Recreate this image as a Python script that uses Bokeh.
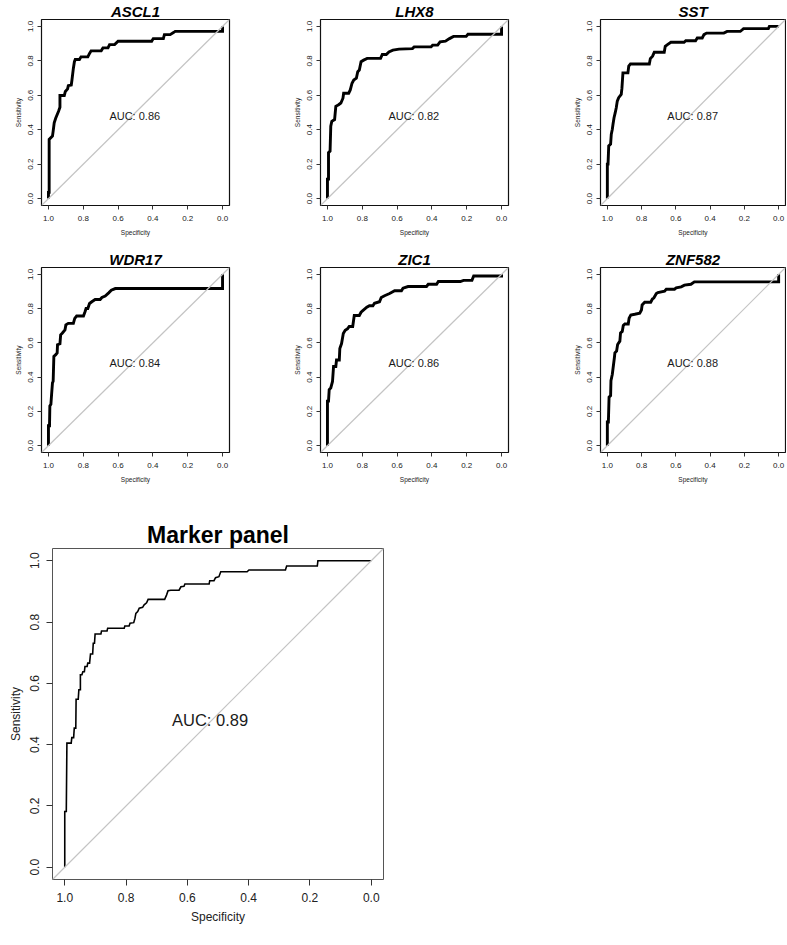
from bokeh.plotting import figure
from bokeh.layouts import column, row
from bokeh.models import Range1d, FixedTicker, NumeralTickFormatter, Label, Slope
from bokeh.embed import file_html
from bokeh.resources import INLINE

FONT = "Liberation Sans"

# ---------------- data (specificity, sensitivity) ----------------
gene_names = ["ASCL1", "LHX8", "SST", "WDR17", "ZIC1", "ZNF582"]
gene_auc = ["0.86", "0.82", "0.87", "0.84", "0.86", "0.88"]
panel_title = "Marker panel"
panel_auc = "0.89"
tick_values = [0.0, 0.2, 0.4, 0.6, 0.8, 1.0]

ascl1_roc = [(1.000, 0.000), (1.000, 0.036), (0.996, 0.036), (0.996, 0.344), (0.977, 0.363), (0.973, 0.392),
             (0.967, 0.440), (0.958, 0.468), (0.942, 0.507), (0.934, 0.530), (0.934, 0.599), (0.909, 0.599),
             (0.903, 0.622), (0.890, 0.637), (0.886, 0.656), (0.869, 0.660), (0.865, 0.689), (0.857, 0.756),
             (0.851, 0.795), (0.846, 0.808), (0.822, 0.808), (0.813, 0.823), (0.774, 0.823), (0.764, 0.843),
             (0.755, 0.858), (0.697, 0.858), (0.687, 0.875), (0.658, 0.875), (0.649, 0.894), (0.620, 0.894),
             (0.600, 0.914), (0.407, 0.914), (0.398, 0.929), (0.340, 0.929), (0.334, 0.952), (0.301, 0.952),
             (0.282, 0.964), (0.272, 0.971), (0.000, 0.971), (0.000, 1.000)]

lhx8_roc = [(1.000, 0.000), (1.000, 0.113), (0.994, 0.113), (0.994, 0.267), (0.985, 0.276), (0.981, 0.420),
            (0.975, 0.449), (0.959, 0.459), (0.952, 0.536), (0.936, 0.545), (0.923, 0.555), (0.911, 0.583),
            (0.907, 0.612), (0.878, 0.612), (0.869, 0.631), (0.859, 0.670), (0.849, 0.689), (0.834, 0.699),
            (0.826, 0.737), (0.817, 0.747), (0.807, 0.795), (0.792, 0.804), (0.772, 0.814), (0.695, 0.814),
            (0.685, 0.837), (0.662, 0.837), (0.647, 0.852), (0.624, 0.862), (0.589, 0.868), (0.512, 0.871),
            (0.502, 0.881), (0.405, 0.881), (0.396, 0.891), (0.367, 0.891), (0.353, 0.910), (0.322, 0.914),
            (0.299, 0.929), (0.276, 0.942), (0.203, 0.942), (0.193, 0.954), (0.000, 0.954), (0.000, 1.000)]

sst_roc = [(1.000, 0.000), (1.000, 0.200), (0.996, 0.200), (0.992, 0.306), (0.981, 0.316), (0.977, 0.374),
           (0.971, 0.403), (0.967, 0.432), (0.961, 0.470), (0.954, 0.499), (0.948, 0.528), (0.942, 0.566),
           (0.934, 0.586), (0.919, 0.605), (0.915, 0.640), (0.909, 0.730), (0.880, 0.730), (0.875, 0.769),
           (0.865, 0.782), (0.755, 0.782), (0.749, 0.813), (0.736, 0.827), (0.726, 0.850), (0.668, 0.850),
           (0.662, 0.884), (0.649, 0.894), (0.629, 0.908), (0.552, 0.908), (0.542, 0.917), (0.485, 0.917),
           (0.475, 0.933), (0.446, 0.933), (0.436, 0.952), (0.421, 0.961), (0.320, 0.961), (0.301, 0.971),
           (0.224, 0.971), (0.214, 0.979), (0.205, 0.987), (0.060, 0.987), (0.054, 1.000), (0.000, 1.000)]

wdr17_roc = [(1.000, 0.000), (1.000, 0.116), (0.994, 0.116), (0.992, 0.232), (0.986, 0.241), (0.982, 0.299),
             (0.977, 0.367), (0.973, 0.376), (0.969, 0.521), (0.958, 0.531), (0.950, 0.541), (0.948, 0.589),
             (0.934, 0.595), (0.930, 0.647), (0.921, 0.656), (0.905, 0.676), (0.900, 0.705), (0.886, 0.714),
             (0.857, 0.714), (0.849, 0.743), (0.838, 0.757), (0.799, 0.757), (0.790, 0.782), (0.784, 0.801),
             (0.774, 0.801), (0.764, 0.830), (0.751, 0.840), (0.732, 0.853), (0.703, 0.853), (0.693, 0.865),
             (0.674, 0.873), (0.654, 0.892), (0.639, 0.907), (0.616, 0.917), (0.000, 0.917), (0.000, 1.000)]

zic1_roc = [(1.000, 0.000), (1.000, 0.260), (0.994, 0.260), (0.990, 0.327), (0.981, 0.337), (0.971, 0.375),
            (0.965, 0.462), (0.952, 0.462), (0.948, 0.500), (0.932, 0.500), (0.929, 0.567), (0.919, 0.596),
            (0.909, 0.654), (0.898, 0.673), (0.884, 0.683), (0.875, 0.696), (0.855, 0.696), (0.846, 0.760),
            (0.817, 0.760), (0.807, 0.779), (0.797, 0.788), (0.774, 0.808), (0.759, 0.817), (0.739, 0.817),
            (0.730, 0.831), (0.701, 0.840), (0.691, 0.865), (0.672, 0.875), (0.643, 0.888), (0.614, 0.904),
            (0.575, 0.904), (0.566, 0.919), (0.537, 0.929), (0.431, 0.929), (0.421, 0.942), (0.373, 0.942),
            (0.363, 0.958), (0.237, 0.958), (0.218, 0.965), (0.170, 0.965), (0.160, 0.990), (0.000, 0.990),
            (0.000, 1.000)]

znf582_roc = [(1.000, 0.000), (1.000, 0.138), (0.994, 0.138), (0.990, 0.283), (0.981, 0.292), (0.979, 0.379),
              (0.971, 0.417), (0.965, 0.465), (0.959, 0.513), (0.956, 0.542), (0.946, 0.552), (0.940, 0.590),
              (0.927, 0.610), (0.923, 0.658), (0.913, 0.667), (0.907, 0.702), (0.898, 0.710), (0.878, 0.710),
              (0.873, 0.744), (0.863, 0.763), (0.840, 0.767), (0.811, 0.773), (0.801, 0.792), (0.797, 0.821),
              (0.782, 0.837), (0.747, 0.837), (0.737, 0.856), (0.728, 0.863), (0.714, 0.888), (0.705, 0.894),
              (0.666, 0.902), (0.656, 0.913), (0.608, 0.913), (0.598, 0.921), (0.569, 0.927), (0.550, 0.937),
              (0.512, 0.942), (0.492, 0.956), (0.000, 0.956), (0.000, 1.000)]

marker_roc = [(1.000, 0.000), (1.000, 0.182), (0.995, 0.182), (0.993, 0.405), (0.979, 0.405), (0.977, 0.423),
              (0.971, 0.423), (0.969, 0.454), (0.964, 0.454), (0.963, 0.548), (0.956, 0.548), (0.954, 0.579),
              (0.949, 0.579), (0.949, 0.628), (0.944, 0.628), (0.941, 0.638), (0.936, 0.638), (0.934, 0.655),
              (0.927, 0.655), (0.925, 0.666), (0.919, 0.666), (0.916, 0.696), (0.909, 0.696), (0.907, 0.731),
              (0.903, 0.731), (0.901, 0.761), (0.882, 0.761), (0.880, 0.771), (0.862, 0.771), (0.860, 0.780),
              (0.806, 0.780), (0.804, 0.787), (0.790, 0.787), (0.787, 0.796), (0.775, 0.798), (0.771, 0.812),
              (0.768, 0.828), (0.762, 0.834), (0.757, 0.845), (0.746, 0.848), (0.741, 0.856), (0.733, 0.863),
              (0.728, 0.874), (0.674, 0.874), (0.668, 0.888), (0.663, 0.902), (0.654, 0.904), (0.627, 0.904),
              (0.621, 0.915), (0.611, 0.917), (0.608, 0.924), (0.529, 0.924), (0.527, 0.935), (0.513, 0.935),
              (0.508, 0.945), (0.497, 0.948), (0.491, 0.964), (0.405, 0.964), (0.399, 0.970), (0.280, 0.970),
              (0.276, 0.983), (0.176, 0.983), (0.174, 1.000), (0.000, 1.000)]

gene_rocs = [ascl1_roc, lhx8_roc, sst_roc, wdr17_roc, zic1_roc, znf582_roc]


def make_panel(name, pts, auc, width, height, left, right, top, bottom, big=False):
    if big:
        st = dict(title_size="23px", title_style="bold", tick_size="12px", lab_size="12px",
                  auc_size="16.5px", roc_w=1.6, tick_out=6, x_standoff=7, y_standoff=7,
                  x_lab_standoff=5, y_lab_standoff=5,
                  outline="#555555", outline_w=1.0, title_standoff=2)
    else:
        st = dict(title_size="15px", title_style="bold italic", tick_size="8px", lab_size="6.5px",
                  auc_size="11px", roc_w=2.9, tick_out=4, x_standoff=6, y_standoff=4,
                  x_lab_standoff=5, y_lab_standoff=4,
                  outline="#111111", outline_w=1.2, title_standoff=0)

    p = figure(width=width, height=height, x_range=Range1d(1.04, -0.04), y_range=Range1d(-0.04, 1.04),
               output_backend="svg", toolbar_location=None, title=name,
               min_border_left=left, min_border_right=right, min_border_top=top, min_border_bottom=bottom)
    p.title.align = "center"
    p.title.text_font = FONT
    p.title.text_font_size = st["title_size"]
    p.title.text_font_style = st["title_style"]
    p.title.text_color = "black"
    p.title.standoff = st["title_standoff"]

    p.background_fill_color = "white"
    p.border_fill_color = "white"
    p.outline_line_color = st["outline"]
    p.outline_line_width = st["outline_w"]
    p.outline_line_alpha = 1.0
    p.xgrid.visible = False
    p.ygrid.visible = False

    p.xaxis.axis_label = "Specificity"
    p.yaxis.axis_label = "Sensitivity"
    for ax in (p.xaxis[0], p.yaxis[0]):
        ax.ticker = FixedTicker(ticks=tick_values)
        ax.formatter = NumeralTickFormatter(format="0.0")
        ax.axis_line_color = None
        ax.major_tick_in = 0
        ax.major_tick_out = st["tick_out"]
        ax.major_tick_line_color = "#333333"
        ax.minor_tick_line_color = None
        ax.major_label_text_font = FONT
        ax.major_label_text_font_size = st["tick_size"]
        ax.major_label_text_color = "#222222"
        ax.axis_label_text_font = FONT
        ax.axis_label_text_font_size = st["lab_size"]
        ax.axis_label_text_font_style = "normal"
        ax.axis_label_text_color = "#222222"
    p.xaxis.major_label_standoff = st["x_standoff"]
    p.yaxis.major_label_standoff = st["y_standoff"]
    p.xaxis.axis_label_standoff = st["x_lab_standoff"]
    p.yaxis.axis_label_standoff = st["y_lab_standoff"]
    p.yaxis.major_label_orientation = "vertical"

    p.add_layout(Slope(gradient=-1, y_intercept=1, line_color="#c4c4c4", line_width=1.2))

    spec = [a for a, b in pts]
    sens = [b for a, b in pts]
    p.line(spec, sens, line_color="black", line_width=st["roc_w"], line_join="miter")

    p.add_layout(Label(x=0.65, y=0.48, text="AUC: " + auc, text_align="left", text_baseline="middle",
                       text_font=FONT, text_font_size=st["auc_size"], text_color="#1a1a1a"))
    return p


# columns: (figure width, left border, right border)
col_geom = [(287, 41, 58), (280, 33, 59), (219, 33, 1)]
# rows: (figure height, top border, bottom border)
row_geom = [(248, 17, 43), (244, 16, 40)]
figs = []
for i, (nm, roc, auc) in enumerate(zip(gene_names, gene_rocs, gene_auc)):
    w, l, r = col_geom[i % 3]
    h, t, b = row_geom[i // 3]
    figs.append(make_panel(nm, roc, auc, w, h, l, r, t, b))

big = make_panel(panel_title, marker_roc, panel_auc, 393, 439, 52, 10, 56, 52, big=True)

layout = column(row(figs[0], figs[1], figs[2]), row(figs[3], figs[4], figs[5]), big)

open("out.html", "w").write(file_html(layout, INLINE))
